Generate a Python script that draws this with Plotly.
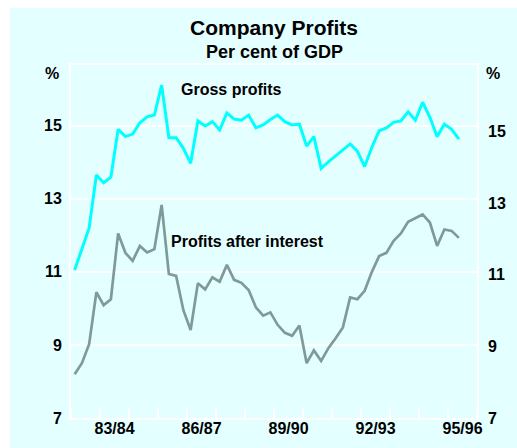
import pandas as pd
import plotly.graph_objects as go

# ---- data (per cent of GDP, quarterly, Sep-qtr 1982 to Dec-qtr 1995) ----
quarters = [str(p) for p in pd.period_range("1982Q3", "1995Q4", freq="Q")]
gross_profits = [11.05, 11.6, 12.2, 13.65, 13.44, 13.59, 14.9, 14.7, 14.77, 15.08,
                 15.24, 15.29, 16.11, 14.67, 14.67, 14.38, 13.97, 15.13, 14.99, 15.11,
                 14.88, 15.35, 15.18, 15.15, 15.29, 14.94, 15.02, 15.17, 15.29, 15.11,
                 15.02, 15.04, 14.44, 14.70, 13.83, 14.01, 14.18, 14.33, 14.50, 14.30,
                 13.88, 14.41, 14.86, 14.94, 15.09, 15.13, 15.38, 15.15, 15.64, 15.23,
                 14.70, 15.04, 14.90, 14.63]
profits_after_interest = [8.20, 8.50, 9.02, 10.44, 10.09, 10.25, 12.05, 11.52, 11.30, 11.71,
                          11.53, 11.62, 12.83, 10.94, 10.89, 9.95, 9.41, 10.69, 10.52, 10.85,
                          10.73, 11.19, 10.78, 10.70, 10.50, 10.03, 9.80, 9.89, 9.55, 9.33,
                          9.25, 9.53, 8.50, 8.85, 8.56, 8.91, 9.18, 9.48, 10.30, 10.25,
                          10.48, 11.00, 11.43, 11.52, 11.85, 12.05, 12.37, 12.48, 12.57, 12.35,
                          11.71, 12.16, 12.12, 11.93]
fy_labels = ["83/84", "86/87", "89/90", "92/93", "95/96"]
y_ticks = [7, 9, 11, 13, 15]


def q_pos(q):
    # mid-point of the quarter on a calendar-year scale
    year, qn = int(q[:4]), int(q[-1])
    return year + (qn - 1) / 4 + 0.125


def fy_pos(label):
    # centre of a financial year "83/84" -> 1 Jan 1984
    return 1900 + int(label[-2:])


x = [q_pos(q) for q in quarters]
fy_centres = [fy_pos(l) for l in fy_labels]
fy_bounds = [y + 0.5 for y in range(1982, 1997)]

BG = "#e4ffff"
FONT = "Arial, Liberation Sans, sans-serif"
CYAN = "#00ffff"
GREY = "#809a9a"
TICKFONT = dict(family=FONT, size=16, color="black", weight="bold")

fig = go.Figure()
fig.add_trace(go.Scatter(x=x, y=gross_profits, mode="lines", name="Gross profits",
                         line=dict(color=CYAN, width=3), showlegend=False))
fig.add_trace(go.Scatter(x=x, y=profits_after_interest, mode="lines",
                         name="Profits after interest",
                         line=dict(color=GREY, width=2.7), showlegend=False))
# invisible copy so that the right-hand axis is drawn
fig.add_trace(go.Scatter(x=x, y=gross_profits, mode="lines", yaxis="y2",
                         line=dict(width=0, color=BG), opacity=0,
                         hoverinfo="skip", showlegend=False))

fig.update_layout(
    width=507, height=440,
    margin=dict(l=61, r=40, t=57, b=30),
    paper_bgcolor=BG, plot_bgcolor=BG,
    font=dict(family=FONT, size=16, color="black"),
    xaxis=dict(range=[1982.5, 1996.5], tickmode="array", tickvals=fy_centres,
               ticktext=fy_labels, ticks="", showgrid=False, zeroline=False,
               automargin=False, ticklabelstandoff=-5,
               showline=True, linecolor="white", linewidth=2, mirror=True,
               tickfont=TICKFONT,
               minor=dict(tickmode="array", tickvals=fy_bounds, ticks="inside",
                          ticklen=10, tickwidth=1.5, tickcolor="white", showgrid=False)),
    yaxis=dict(range=[7, 16.66], tickmode="array", tickvals=y_ticks, ticks="",
               showgrid=True, gridcolor="white", gridwidth=1.5, zeroline=False,
               automargin=False,
               showline=True, linecolor="white", linewidth=2, mirror=True,
               ticklabelstandoff=4, tickfont=TICKFONT),
    yaxis2=dict(range=[7, 16.86], overlaying="y", side="right", tickmode="array",
                tickvals=y_ticks, ticks="", showgrid=False, zeroline=False,
                automargin=False, showline=False, ticklabelstandoff=10,
                tickfont=TICKFONT),
    annotations=[
        dict(text="<b>Company Profits</b>", xref="paper", yref="paper", x=0.5, y=1.107,
             showarrow=False, font=dict(family=FONT, size=21),
             xanchor="center", yanchor="middle"),
        dict(text="<b>Per cent of GDP</b>", xref="paper", yref="paper", x=0.5, y=1.0376,
             showarrow=False, font=dict(family=FONT, size=18),
             xanchor="center", yanchor="middle"),
        dict(text="<b>%</b>", xref="paper", yref="paper", x=-0.047, y=0.977,
             showarrow=False, font=dict(family=FONT, size=16),
             xanchor="center", yanchor="middle"),
        dict(text="<b>%</b>", xref="paper", yref="paper", x=1.039, y=0.977,
             showarrow=False, font=dict(family=FONT, size=16),
             xanchor="center", yanchor="middle"),
        dict(text="<b>Gross profits</b>", x=1988.02, y=16.0, showarrow=False,
             font=dict(family=FONT, size=16), xanchor="center", yanchor="middle"),
        dict(text="<b>Profits after interest</b>", x=1988.6, y=11.82, showarrow=False,
             font=dict(family=FONT, size=16), xanchor="center", yanchor="middle"),
    ],
)

fig.write_html("out.html",
               post_script="document.body.style.margin='8px 0 0 10px';"
                           "document.body.style.overflow='hidden';")
